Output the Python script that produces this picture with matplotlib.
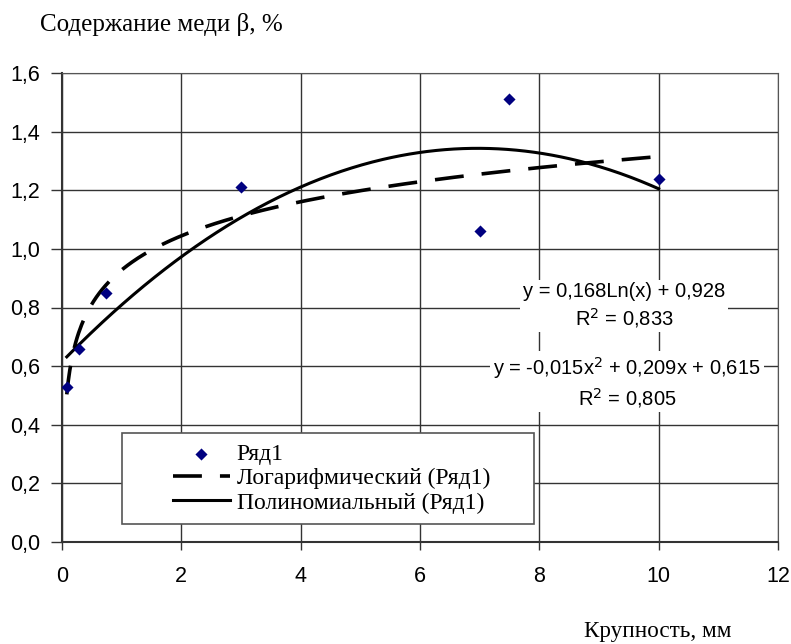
import numpy as np
import matplotlib
matplotlib.use("Agg")
import matplotlib.pyplot as plt
from matplotlib.patches import Rectangle

# Data
x_data = [0.08, 0.28, 0.73, 3.0, 7.0, 7.5, 10.0]
y_data = [0.53, 0.66, 0.85, 1.21, 1.06, 1.51, 1.24]
log_coef = [0.168, 0.928]          # y = a*ln(x) + b
poly_coef = [-0.015, 0.209, 0.615]  # y = a x^2 + b x + c
x_ticks = [0, 2, 4, 6, 8, 10, 12]
y_ticks = [0.0, 0.2, 0.4, 0.6, 0.8, 1.0, 1.2, 1.4, 1.6]
series_name = "Ряд1"
log_name = "Логарифмический (Ряд1)"
poly_name = "Полиномиальный (Ряд1)"
y_title = "Содержание меди β, %"
x_title = "Крупность, мм"
log_eq = "y = 0,168Ln(x) + 0,928\nR$^2$ = 0,833"
poly_eq = "y = -0,015x$^2$ + 0,209x + 0,615\nR$^2$ = 0,805"

W, H = 791, 644
L, R, T, B = 62, 778, 73, 542
fig = plt.figure(figsize=(W/100, H/100), dpi=100)
ax = fig.add_axes([L/W, 1-B/H, (R-L)/W, (B-T)/H])

xs = np.linspace(min(x_data), max(x_data), 400)
y_log = log_coef[0]*np.log(xs) + log_coef[1]
y_poly = np.polyval(poly_coef, xs)

ax.scatter(x_data, y_data, marker='D', s=38, color='#000080', zorder=6, label=series_name, linewidths=0)
ax.plot(xs, y_log, color='black', lw=2.6, dashes=(8, 5), zorder=3, label=log_name)
ax.plot(xs, y_poly, color='black', lw=2.2, zorder=3, label=poly_name)

ax.set_xlim(0, 12)
ax.set_ylim(0, 1.6)
ax.set_xticks(x_ticks)
ax.set_yticks(y_ticks)
ax.set_xticklabels([str(t) for t in x_ticks], fontfamily='Liberation Sans', fontsize=15.5)
ax.set_yticklabels([f"{t:.1f}".replace('.', ',') for t in y_ticks], fontfamily='Liberation Sans', fontsize=15.5)
ax.tick_params(axis='y', direction='out', length=8, width=1, color='#333333', pad=8)
ax.tick_params(axis='x', direction='out', length=6, width=1, color='#333333', pad=11)
ax.grid(True, color='#333333', lw=1)
ax.set_axisbelow(True)
for s in ['top', 'right']:
    ax.spines[s].set_color('#555555')
for s in ['left', 'bottom']:
    ax.spines[s].set_color('#333333')
    ax.spines[s].set_linewidth(1.5)

ax.text(9.42, 0.806, log_eq, ha='center', va='center', fontsize=14.5,
        fontfamily='Liberation Sans', linespacing=1.25,
        bbox=dict(facecolor='white', edgecolor='none', pad=2), zorder=5)
ax.text(9.47, 0.545, poly_eq, ha='center', va='center', fontsize=14.5,
        fontfamily='Liberation Sans', linespacing=1.25,
        bbox=dict(facecolor='white', edgecolor='none', pad=2), zorder=5)

# legend box
lx0, lx1, ly0, ly1 = 122, 534, 433, 524
def to_ax(px, py):
    return (px - L)/(R - L), (B - py)/(B - T)
a0 = to_ax(lx0, ly1)
a1 = to_ax(lx1, ly0)
ax.add_patch(Rectangle(a0, a1[0]-a0[0], a1[1]-a0[1], transform=ax.transAxes,
                       facecolor='white', edgecolor='#555555', lw=1.2, zorder=7))
leg = ax.legend(loc='center', bbox_to_anchor=((a0[0]+a1[0])/2 + 0.005, (a0[1]+a1[1])/2),
                frameon=False, prop={'family': 'Liberation Serif', 'size': 17},
                handlelength=2.4, borderpad=0.2, labelspacing=0.12, handletextpad=0.3,
                borderaxespad=0)
leg.set_zorder(8)
leg._legend_box.align = "left"

fig.text(40/W, 1-24/H, y_title, fontfamily='Liberation Serif', fontsize=18, ha='left', va='center')
fig.text(732/W, 1-632/H, x_title, fontfamily='Liberation Serif', fontsize=16.7, ha='right', va='center')

fig.savefig("out.png", dpi=100)
